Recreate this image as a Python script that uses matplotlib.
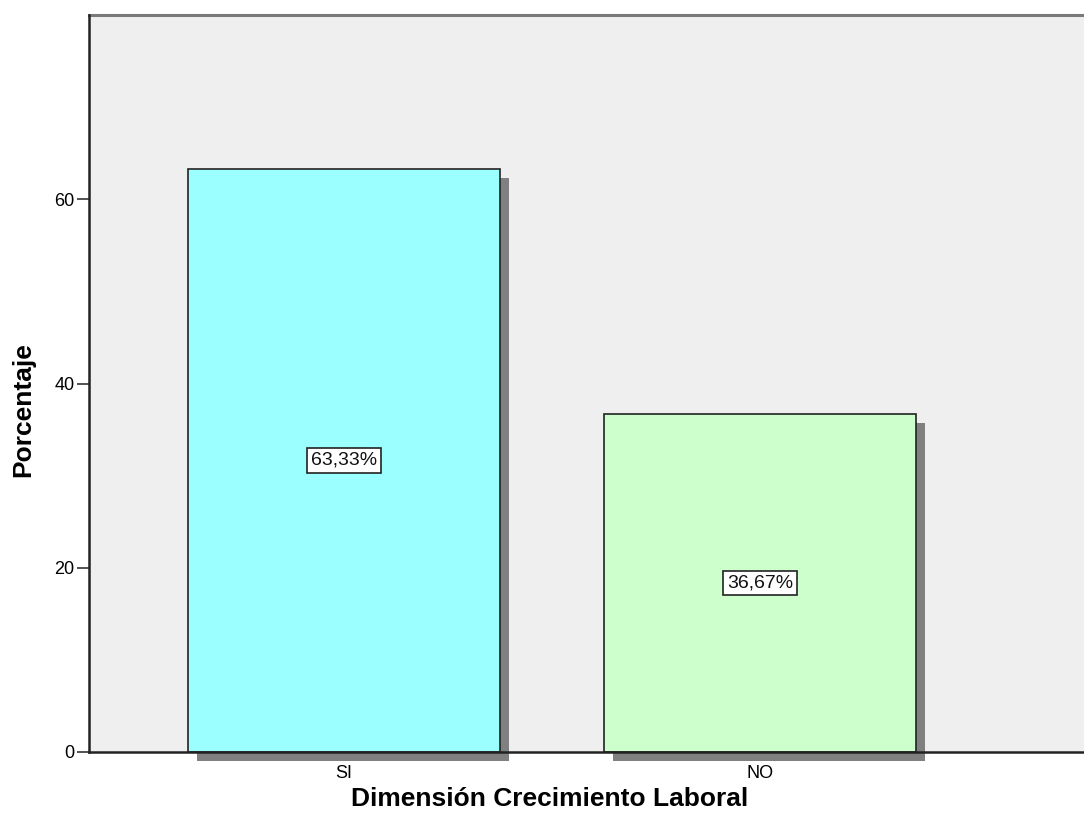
import matplotlib
matplotlib.use("Agg")
import matplotlib.pyplot as plt
import matplotlib.patheffects as pe

categories = ["SI", "NO"]
percentages = [63.33, 36.67]
bar_colors = ["#9CFFFF", "#CCFFCC"]
y_ticks = [0, 20, 40, 60]

plt.rcParams["font.family"] = ["Liberation Sans", "DejaVu Sans"]

W, H = 1084, 832
fig = plt.figure(figsize=(W / 100, H / 100), dpi=100)
ax = fig.add_axes([89 / W, 80 / H, 1 - 89 / W, (752 - 15) / H])
ax.set_facecolor("#EFEFEF")

positions = list(range(len(categories)))
shadow = [pe.SimplePatchShadow(offset=(6.5, -6.5), shadow_rgbFace="#808080", alpha=1.0),
          pe.Normal()]
bars = ax.bar(positions, percentages, width=0.75, color=bar_colors,
              edgecolor="#222222", linewidth=1.2, zorder=2, clip_on=False)
for b in bars:
    b.set_path_effects(shadow)

for x, v in zip(positions, percentages):
    ax.text(x, v / 2, f"{v:.2f}%".replace(".", ","), ha="center", va="center",
            fontsize=14, color="#111111", zorder=4,
            bbox=dict(boxstyle="square,pad=0.2", facecolor="white",
                      edgecolor="#222222", linewidth=1.2))

ax.set_xlim(-0.613, 1.778)
ax.set_ylim(0, 80)
ax.set_yticks(y_ticks)
ax.set_xticks(positions)
ax.set_xticklabels(categories)
ax.tick_params(axis="y", length=8.5, width=1.2, color="#333333", labelsize=13, pad=2)
ax.tick_params(axis="x", length=0, labelsize=13, pad=9)

for side in ("left", "bottom"):
    ax.spines[side].set_color("#222222")
    ax.spines[side].set_linewidth(1.8)
    ax.spines[side].set_zorder(5)
ax.spines["top"].set_color("#7A7A7A")
ax.spines["top"].set_linewidth(2.2)
ax.spines["right"].set_visible(False)

fig.text(23 / W, 1 - 410 / H, "Porcentaje", rotation=90, ha="center", va="center",
         fontsize=19, fontweight="bold")
fig.text(550 / W, 1 - 806 / H, "Dimensión Crecimiento Laboral",
         ha="center", va="baseline", fontsize=19, fontweight="bold")

fig.savefig("out.png", dpi=100)
